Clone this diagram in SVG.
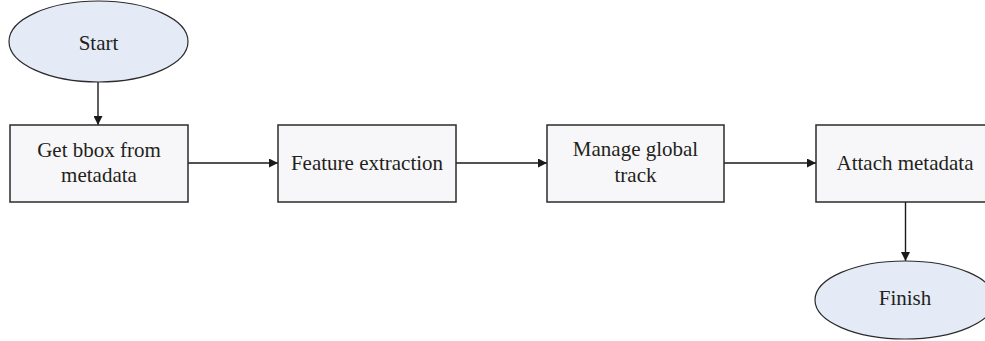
<svg xmlns="http://www.w3.org/2000/svg" width="985" height="341" viewBox="0 0 985 341">
  <defs>
    <style>
      .box { fill: #f7f7f9; stroke: #2b2b2b; stroke-width: 1.5; }
      .term { fill: #e5ebf6; stroke: #2b2b2b; stroke-width: 1.2; }
      .lbl { font-family: "Liberation Serif", "Times New Roman", serif; font-size: 21px; fill: #231f20; text-anchor: middle; }
      .wire { fill: none; stroke: #1a1a1a; stroke-width: 1.4; }
    </style>
    <marker id="arrow" viewBox="0 0 10 10" refX="10" refY="5" markerWidth="9" markerHeight="9" markerUnits="userSpaceOnUse" orient="auto">
      <path d="M0,0 L10,5 L0,10 z" fill="#1a1a1a"/>
    </marker>
  </defs>

  <rect width="985" height="341" fill="#ffffff"/>

  <g id="connectors">
    <line class="wire" x1="98" y1="82" x2="98" y2="125" marker-end="url(#arrow)"/>
    <line class="wire" x1="188" y1="163" x2="278" y2="163" marker-end="url(#arrow)"/>
    <line class="wire" x1="456" y1="163" x2="547" y2="163" marker-end="url(#arrow)"/>
    <line class="wire" x1="724" y1="163" x2="816" y2="163" marker-end="url(#arrow)"/>
    <line class="wire" x1="905.5" y1="202" x2="905.5" y2="261" marker-end="url(#arrow)"/>
  </g>

  <g id="start">
    <ellipse class="term" cx="98.5" cy="41.5" rx="89.5" ry="40.5"/>
    <text class="lbl" x="98.5" y="50">Start</text>
  </g>

  <g id="get-bbox">
    <rect class="box" x="10" y="125" width="178" height="77"/>
    <text class="lbl" x="99" y="157">Get bbox from</text>
    <text class="lbl" x="99" y="182">metadata</text>
  </g>

  <g id="feature-extraction">
    <rect class="box" x="278" y="125" width="178" height="77"/>
    <text class="lbl" x="367" y="169.5">Feature extraction</text>
  </g>

  <g id="manage-track">
    <rect class="box" x="547" y="125" width="177" height="77"/>
    <text class="lbl" x="635.5" y="155.5">Manage global</text>
    <text class="lbl" x="635.5" y="182">track</text>
  </g>

  <g id="attach-metadata">
    <rect class="box" x="816" y="125" width="178" height="77"/>
    <text class="lbl" x="905" y="169.5">Attach metadata</text>
  </g>

  <g id="finish">
    <ellipse class="term" cx="905" cy="300" rx="90" ry="39"/>
    <text class="lbl" x="905" y="305">Finish</text>
  </g>
</svg>
